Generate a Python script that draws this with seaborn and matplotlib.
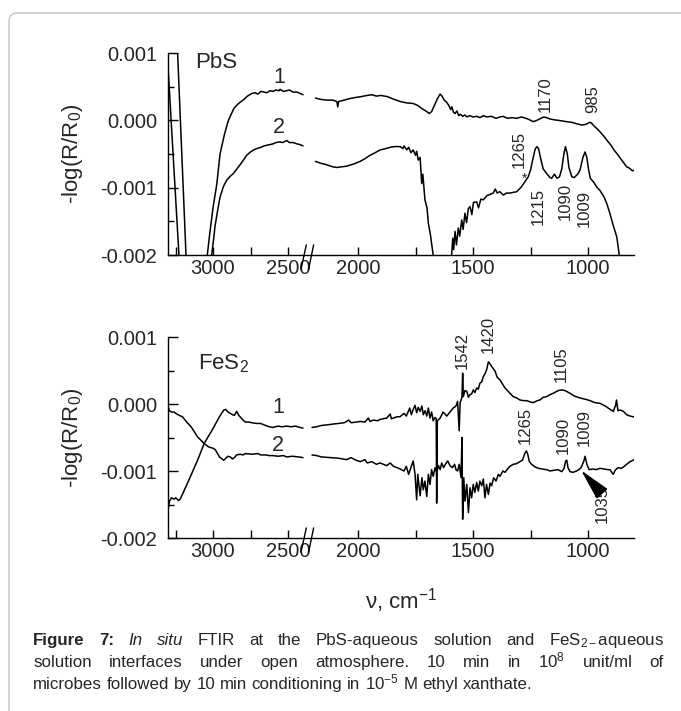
import numpy as np
import matplotlib
matplotlib.use("Agg")
import matplotlib.pyplot as plt
import seaborn as sns
from matplotlib.patches import FancyBboxPatch
from matplotlib.ticker import FixedLocator, NullFormatter, FormatStrFormatter

# === DATA (wavenumber in cm-1, signal in units of 1e-3) ===
pbs1_left_wn = [3300, 3236, 3180, 3172, 3045, 3038, 3020, 3000, 2975, 2953, 2925, 2900, 2887, 2860,
                2830, 2800, 2770, 2740, 2720, 2700, 2680, 2660, 2640, 2620, 2600, 2580, 2560, 2553,
                2530, 2510, 2490, 2467, 2440, 2420, 2400]
pbs1_left_val = [1.00, 1.00, -2.0, -2.3, -2.3, -2.0, -1.65, -1.30, -0.95, -0.50, -0.22, -0.02, 0.05, 0.18,
                 0.25, 0.30, 0.36, 0.40, 0.41, 0.39, 0.43, 0.42, 0.41, 0.44, 0.43, 0.45, 0.44, 0.46,
                 0.43, 0.44, 0.45, 0.42, 0.42, 0.40, 0.38]
pbs1_right_wn = [2185, 2160, 2135, 2110, 2092, 2088, 2084, 2060, 2040, 2010, 1990, 1960, 1940, 1920,
                 1900, 1870, 1850, 1817, 1790, 1760, 1740, 1720, 1701, 1690, 1680, 1668, 1655, 1643,
                 1635, 1625, 1615, 1605, 1597, 1592, 1585, 1578, 1570, 1562, 1555, 1545, 1535, 1527,
                 1515, 1500, 1483, 1470, 1455, 1440, 1420, 1400, 1383, 1370, 1350, 1330, 1310, 1290,
                 1270, 1255, 1238, 1222, 1205, 1192, 1180, 1165, 1151, 1130, 1110, 1093, 1070, 1050,
                 1027, 1010, 992, 985, 975, 962, 945, 930, 919, 900, 885, 875, 860, 845, 832, 820,
                 807, 800]
pbs1_right_val = [0.33, 0.31, 0.30, 0.30, 0.28, 0.20, 0.28, 0.30, 0.32, 0.34, 0.35, 0.37, 0.38, 0.36,
                  0.37, 0.35, 0.32, 0.28, 0.26, 0.25, 0.22, 0.17, 0.13, 0.10, 0.13, 0.22, 0.32, 0.39,
                  0.36, 0.30, 0.27, 0.22, 0.16, 0.20, 0.12, 0.10, 0.14, 0.07, 0.09, 0.06, 0.08, 0.05,
                  0.07, 0.05, 0.06, 0.04, 0.07, 0.05, 0.06, 0.03, 0.05, 0.06, 0.03, 0.04, 0.03, 0.05,
                  0.03, 0.01, -0.02, 0.00, 0.03, 0.05, 0.04, 0.02, 0.01, 0.00, -0.01, -0.02, -0.03, -0.05,
                  -0.07, -0.06, -0.03, -0.04, -0.08, -0.12, -0.18, -0.24, -0.29, -0.37, -0.45, -0.49, -0.56,
                  -0.63, -0.69, -0.71, -0.75, -0.74]
pbs2_left_wn = [3298, 3227, 3220, 3015, 3009, 2995, 2987, 2970, 2953, 2930, 2909, 2885, 2864, 2840,
                2820, 2800, 2776, 2750, 2730, 2709, 2680, 2660, 2642, 2620, 2600, 2580, 2553, 2535,
                2509, 2490, 2464, 2440, 2420, 2400]
pbs2_left_val = [0.72, -2.0, -2.3, -2.3, -2.0, -1.75, -1.58, -1.35, -1.14, -0.98, -0.89, -0.83, -0.79, -0.72,
                 -0.66, -0.60, -0.52, -0.47, -0.44, -0.42, -0.40, -0.38, -0.37, -0.36, -0.35, -0.33, -0.32, -0.33,
                 -0.30, -0.33, -0.33, -0.35, -0.36, -0.38]
pbs2_right_wn = [2185, 2160, 2136, 2110, 2093, 2070, 2049, 2020, 1991, 1970, 1948, 1925, 1904, 1880,
                 1860, 1840, 1817, 1805, 1800, 1788, 1780, 1770, 1760, 1750, 1745, 1738, 1730, 1723,
                 1718, 1709, 1700, 1694, 1685, 1680, 1673, 1665, 1600, 1593, 1588, 1584, 1578, 1572,
                 1564, 1558, 1549, 1543, 1535, 1528, 1520, 1513, 1505, 1498, 1484, 1476, 1466, 1455,
                 1440, 1426, 1412, 1403, 1395, 1383, 1368, 1355, 1339, 1325, 1310, 1290, 1274, 1260,
                 1250, 1240, 1230, 1222, 1215, 1205, 1195, 1180, 1165, 1158, 1146, 1135, 1124, 1114,
                 1105, 1098, 1090, 1083, 1070, 1060, 1045, 1035, 1022, 1013, 1005, 998, 990, 975,
                 960, 948, 930, 919, 905, 897, 885, 875, 864, 855]
pbs2_right_val = [-0.61, -0.64, -0.66, -0.69, -0.70, -0.69, -0.68, -0.65, -0.61, -0.57, -0.52, -0.48, -0.44, -0.42,
                  -0.40, -0.39, -0.39, -0.42, -0.38, -0.44, -0.40, -0.48, -0.44, -0.52, -0.46, -0.59, -0.55, -0.94,
                  -0.80, -1.18, -1.30, -1.53, -1.70, -1.83, -2.0, -2.3, -2.3, -2.0, -1.75, -1.92, -1.65, -1.85,
                  -1.60, -1.72, -1.48, -1.62, -1.38, -1.52, -1.31, -1.28, -1.40, -1.22, -1.21, -1.30, -1.17, -1.18,
                  -1.12, -1.10, -1.08, -1.02, -1.08, -1.06, -1.11, -1.08, -1.08, -1.07, -1.06, -0.99, -0.91, -0.84,
                  -0.74, -0.58, -0.43, -0.39, -0.42, -0.58, -0.72, -0.79, -0.85, -0.86, -0.80, -0.86, -0.84, -0.72,
                  -0.50, -0.39, -0.50, -0.70, -0.84, -0.85, -0.80, -0.74, -0.55, -0.47, -0.55, -0.72, -0.86, -0.92,
                  -1.00, -1.04, -1.14, -1.23, -1.38, -1.48, -1.62, -1.73, -2.0, -2.3]

fes1_left_wn = [3300, 3290, 3277, 3260, 3248, 3230, 3219, 3200, 3190, 3146, 3103, 3059, 3001, 2957,
                2928, 2915, 2900, 2885, 2870, 2857, 2842, 2828, 2800, 2784, 2760, 2741, 2710, 2683,
                2650, 2625, 2600, 2567, 2540, 2509, 2480, 2451, 2420, 2400]
fes1_left_val = [-1.58, -1.45, -1.40, -1.42, -1.40, -1.44, -1.42, -1.33, -1.28, -1.06, -0.84, -0.59, -0.37, -0.19,
                 -0.09, -0.08, -0.12, -0.14, -0.16, -0.17, -0.11, -0.17, -0.24, -0.27, -0.27, -0.28, -0.29, -0.29,
                 -0.32, -0.34, -0.35, -0.33, -0.34, -0.33, -0.34, -0.33, -0.35, -0.36]
fes1_right_wn = [2200, 2180, 2159, 2130, 2110, 2084, 2060, 2040, 2030, 2008, 1990, 1970, 1955, 1948,
                 1933, 1915, 1904, 1890, 1875, 1860, 1855, 1846, 1830, 1817, 1800, 1790, 1775, 1768,
                 1760, 1752, 1745, 1738, 1730, 1722, 1716, 1708, 1701, 1694, 1687, 1680, 1673, 1665,
                 1660, 1658, 1655, 1643, 1630, 1614, 1600, 1586, 1574, 1567, 1560, 1556, 1548, 1545,
                 1542, 1535, 1527, 1520, 1513, 1506, 1499, 1492, 1484, 1477, 1470, 1462, 1455, 1448,
                 1441, 1433, 1426, 1419, 1410, 1404, 1395, 1383, 1372, 1361, 1350, 1339, 1325, 1310,
                 1296, 1280, 1267, 1250, 1238, 1220, 1209, 1195, 1180, 1165, 1151, 1130, 1114, 1100,
                 1078, 1060, 1035, 1010, 991, 970, 948, 925, 904, 890, 880, 876, 870, 860,
                 846, 832, 817, 805, 800]
fes1_right_val = [-0.35, -0.34, -0.32, -0.31, -0.30, -0.29, -0.28, -0.24, -0.28, -0.27, -0.26, -0.27, -0.21, -0.26,
                  -0.24, -0.25, -0.23, -0.22, -0.21, -0.15, -0.22, -0.21, -0.19, -0.19, -0.14, -0.18, -0.06, -0.16,
                  -0.08, -0.02, -0.13, -0.05, -0.11, -0.03, -0.16, -0.10, -0.18, -0.06, -0.21, -0.12, -0.25, -0.20,
                  -0.22, -1.48, -0.25, -0.21, -0.12, -0.18, -0.12, -0.06, -0.03, 0.04, -0.40, 0.02, 0.10, 0.46,
                  0.11, 0.20, 0.19, 0.10, 0.14, 0.15, 0.21, 0.17, 0.24, 0.22, 0.31, 0.33, 0.41, 0.45,
                  0.51, 0.63, 0.60, 0.56, 0.52, 0.49, 0.40, 0.36, 0.30, 0.24, 0.20, 0.16, 0.11, 0.09,
                  0.06, 0.05, 0.05, 0.03, 0.02, 0.05, 0.06, 0.10, 0.11, 0.14, 0.16, 0.20, 0.21, 0.20,
                  0.16, 0.12, 0.09, 0.07, 0.05, 0.02, 0.01, -0.03, -0.08, -0.11, -0.02, 0.06, -0.10, -0.09,
                  -0.11, -0.16, -0.18, -0.19, -0.19]
fes2_left_wn = [3300, 3290, 3277, 3260, 3248, 3225, 3204, 3175, 3146, 3103, 3059, 3030, 3001, 2985,
                2957, 2940, 2928, 2915, 2900, 2885, 2870, 2857, 2842, 2820, 2800, 2784, 2741, 2700,
                2683, 2650, 2625, 2600, 2567, 2530, 2509, 2470, 2430, 2400]
fes2_left_val = [-0.04, -0.10, -0.12, -0.12, -0.14, -0.17, -0.19, -0.27, -0.34, -0.49, -0.59, -0.64, -0.66, -0.68,
                 -0.79, -0.82, -0.84, -0.81, -0.78, -0.79, -0.82, -0.80, -0.76, -0.75, -0.76, -0.74, -0.75, -0.74,
                 -0.76, -0.76, -0.77, -0.77, -0.78, -0.77, -0.79, -0.78, -0.79, -0.80]
fes2_right_wn = [2200, 2180, 2159, 2120, 2084, 2050, 2030, 2008, 1990, 1970, 1960, 1940, 1920, 1904,
                 1890, 1875, 1860, 1846, 1830, 1817, 1800, 1790, 1780, 1770, 1760, 1752, 1745, 1740,
                 1730, 1722, 1716, 1709, 1701, 1694, 1687, 1680, 1673, 1665, 1658, 1650, 1643, 1636,
                 1628, 1620, 1610, 1600, 1590, 1580, 1574, 1567, 1560, 1552, 1548, 1545, 1540, 1535,
                 1527, 1520, 1513, 1506, 1499, 1492, 1484, 1477, 1470, 1462, 1455, 1448, 1441, 1433,
                 1426, 1419, 1410, 1400, 1390, 1383, 1370, 1361, 1350, 1339, 1325, 1310, 1296, 1285,
                 1275, 1268, 1262, 1255, 1245, 1230, 1215, 1200, 1180, 1165, 1150, 1130, 1114, 1104,
                 1097, 1092, 1087, 1078, 1065, 1050, 1040, 1030, 1018, 1013, 1005, 995, 980, 965,
                 948, 930, 915, 904, 895, 890, 882, 870, 855, 846, 832, 817, 805, 800]
fes2_right_val = [-0.76, -0.77, -0.79, -0.80, -0.81, -0.83, -0.80, -0.84, -0.86, -0.83, -0.88, -0.86, -0.90, -0.88,
                  -0.90, -0.92, -0.88, -0.93, -0.95, -0.97, -1.00, -0.93, -1.05, -0.95, -0.85, -1.05, -1.43, -1.05,
                  -1.37, -1.10, -1.28, -1.15, -1.38, -1.05, -1.20, -0.98, -1.08, -0.95, -1.02, -0.92, -0.98, -0.88,
                  -0.95, -0.90, -0.85, -0.92, -0.95, -0.90, -0.98, -1.00, -0.90, -1.10, -0.50, -1.72, -1.10, -1.45,
                  -1.20, -1.62, -1.25, -1.40, -1.20, -1.32, -1.17, -1.30, -1.15, -1.22, -1.12, -1.40, -1.20, -1.35,
                  -1.18, -1.22, -1.10, -1.15, -1.05, -1.08, -1.00, -1.02, -0.97, -0.93, -0.90, -0.89, -0.86, -0.84,
                  -0.74, -0.70, -0.75, -0.86, -0.90, -0.94, -0.96, -0.97, -0.98, -1.00, -0.99, -0.98, -1.01, -0.96,
                  -0.85, -0.84, -0.95, -1.01, -1.02, -1.00, -0.98, -0.95, -0.85, -0.78, -0.90, -0.98, -0.97, -0.98,
                  -0.96, -0.97, -0.98, -0.98, -1.03, -1.05, -0.99, -0.95, -0.96, -0.94, -0.90, -0.86, -0.84, -0.83]

# peak labels: (text, wavenumber, value*1e3, vertical alignment)
pbs_peaks = [("1170", 1187, 0.12, "bottom"), ("985", 980, 0.11, "bottom"), ("1265", 1300, -0.71, "bottom"),
             ("1215", 1215, -1.00, "top"), ("1090", 1098, -0.93, "top"), ("1009", 1015, -1.04, "top")]
fes_peaks = [("1542", 1548, 0.52, "bottom"), ("1420", 1433, 0.76, "bottom"), ("1105", 1117, 0.33, "bottom"),
             ("1265", 1272, -0.60, "bottom"), ("1090", 1109, -0.75, "bottom"), ("1009", 1015, -0.63, "bottom"),
             ("1035", 939, -1.23, "top")]

x_major = [3000, 2500, 2000, 1500, 1000]
x_minor = [3250, 2750, 1750, 1250]
y_major = [-0.002, -0.001, 0.0, 0.001]
y_minor = [-0.0015, -0.0005, 0.0005]

# === STYLE ===
sns.set_style("ticks")
plt.rcParams["font.family"] = ["Liberation Sans", "DejaVu Sans"]
plt.rcParams["mathtext.fontset"] = "custom"
plt.rcParams["mathtext.rm"] = "Liberation Sans"
plt.rcParams["mathtext.it"] = "Liberation Sans:italic"
plt.rcParams["mathtext.bf"] = "Liberation Sans:bold"
plt.rcParams["axes.unicode_minus"] = False

W, H = 681, 711

# broken x axis: 3300-2400 and 2200-800 on different scales
BRK_WN = [-10000, 800, 2200, 2400, 3300, 20000]
BRK_POS = [-2484, 0, 322, 331, 466, 2971]


def fwd(x):
    return np.interp(x, BRK_WN, BRK_POS)


def inv(p):
    return np.interp(p, BRK_POS, BRK_WN)


fig = plt.figure(figsize=(W / 100, H / 100), dpi=100)
ax1 = fig.add_axes([168 / W, 1 - 255 / H, 466 / W, 202 / H])
ax2 = fig.add_axes([168 / W, 1 - 538 / H, 466 / W, 201 / H])


def draw(ax, wn, val):
    sns.lineplot(x=np.array(wn, float), y=np.array(val) * 1e-3, ax=ax, color="black",
                 lw=1.1, sort=False, estimator=None)


draw(ax1, pbs1_left_wn, pbs1_left_val)
draw(ax1, pbs1_right_wn, pbs1_right_val)
draw(ax1, pbs2_left_wn, pbs2_left_val)
draw(ax1, pbs2_right_wn, pbs2_right_val)
draw(ax2, fes1_left_wn, fes1_left_val)
draw(ax2, fes1_right_wn, fes1_right_val)
draw(ax2, fes2_left_wn, fes2_left_val)
draw(ax2, fes2_right_wn, fes2_right_val)

for ax in (ax1, ax2):
    ax.set_xscale("function", functions=(fwd, inv))
    ax.set_xlim(3300, 800)
    ax.set_ylim(-0.002, 0.001)
    sns.despine(ax=ax)
    for s in ("left", "bottom"):
        ax.spines[s].set_linewidth(1.0)
        ax.spines[s].set_color("black")
    ax.xaxis.set_major_locator(FixedLocator(x_major))
    ax.xaxis.set_minor_locator(FixedLocator(x_minor))
    ax.xaxis.set_major_formatter(FormatStrFormatter("%d"))
    ax.xaxis.set_minor_formatter(NullFormatter())
    ax.yaxis.set_major_locator(FixedLocator(y_major))
    ax.yaxis.set_minor_locator(FixedLocator(y_minor))
    ax.yaxis.set_major_formatter(FormatStrFormatter("%.3f"))
    ax.tick_params(axis="x", which="both", direction="in", length=6, width=1, labelsize=14.5, pad=3,
                   color="black")
    ax.tick_params(axis="y", which="major", direction="in", length=7.5, width=1, labelsize=14.5, pad=8,
                   color="black")
    ax.tick_params(axis="y", which="minor", direction="in", length=4.5, width=1, color="black")
    ax.set_xlabel("")
    ax.set_ylabel(r"-log(R/R$_0$)", fontsize=16)
    ax.yaxis.set_label_coords(-0.178, 0.5)
    # break marks
    for x0, x1 in ((0.2854, 0.2968), (0.3017, 0.3125)):
        ax.plot([x0, x1], [-0.07, 0.05], transform=ax.transAxes, color="black", lw=1, clip_on=False)

ax2.set_xlabel(r"ν, cm$^{-1}$", fontsize=16)
ax2.xaxis.set_label_coords(0.5, -0.24)

# panel labels and curve numbers
ax1.text(3120, 0.00078, "PbS", fontsize=16, ha="left", va="baseline")
ax2.text(3100, 0.00052, r"FeS$_2$", fontsize=16, ha="left", va="baseline")
ax1.text(2560, 0.00063, "1", fontsize=15.5, ha="center", va="center")
ax1.text(2560, -0.0001, "2", fontsize=15.5, ha="center", va="center")
ax2.text(2567, -0.00005, "1", fontsize=15.5, ha="center", va="center")
ax2.text(2567, -0.00062, "2", fontsize=15.5, ha="center", va="center")
ax1.text(1278, -0.00093, "*", fontsize=10, ha="center", va="baseline")

for ax, peaks in ((ax1, pbs_peaks), (ax2, fes_peaks)):
    for txt, wn, v, va in peaks:
        ax.text(wn, v * 1e-3, txt, rotation=90, fontsize=12, ha="center", va=va)

ax2.annotate("", xy=(1030, -0.00099), xytext=(957, -0.00127),
             arrowprops=dict(arrowstyle="-|>,head_length=1.3,head_width=0.3", color="black",
                             lw=1.2, mutation_scale=15, shrinkA=0, shrinkB=0))

# page border
border = FancyBboxPatch((9 / W, -0.2), 1.0, 1.2 - 13 / H,
                        boxstyle="round,pad=0,rounding_size=0.012", transform=fig.transFigure,
                        fc="none", ec="#c4c4c4", lw=1.0)
fig.patches.append(border)

# caption, justified like the journal text
renderer = fig.canvas.get_renderer()
CAP_SIZE = 12.2


def caption_line(words, y_px, justify):
    x0, x1 = 33, 664
    texts = []
    for w in words:
        props = {}
        if isinstance(w, tuple):
            w, props = w
        texts.append(fig.text(0, 1 - y_px / H, w, fontsize=CAP_SIZE, ha="left", va="baseline", **props))
    widths = [t.get_window_extent(renderer).width for t in texts]
    space = CAP_SIZE * 100 / 72 * 0.278
    gap = (x1 - x0 - sum(widths)) / (len(texts) - 1) if justify else space
    x = x0
    for t, w in zip(texts, widths):
        t.set_x(x / W)
        x += w + gap


bold = {"fontweight": "bold"}
ital = {"fontstyle": "italic"}
caption_line([("Figure", bold), ("7:", bold), ("In", ital), ("situ", ital), "FTIR", "at", "the",
              "PbS-aqueous", "solution", "and", r"FeS$_{2-}$aqueous"], 645, True)
caption_line(["solution", "interfaces", "under", "open", "atmosphere.", "10", "min", "in",
              r"10$^{8}$", "unit/ml", "of"], 667, True)
caption_line(["microbes", "followed", "by", "10", "min", "conditioning", "in", r"10$^{-5}$", "M",
              "ethyl", "xanthate."], 689, False)

fig.savefig("out.png", dpi=100)
